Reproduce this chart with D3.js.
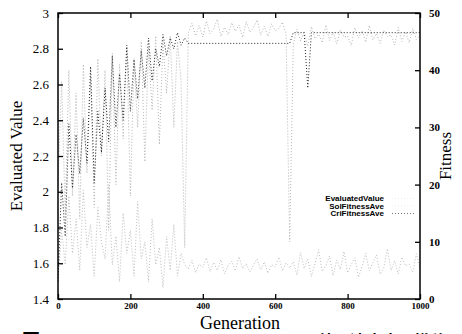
<!DOCTYPE html>
<html>
<head>
<meta charset="utf-8">
<script src="https://cdn.jsdelivr.net/npm/d3@7"></script>
<style>
  body { margin: 0; background: #fff; }
  svg { display: block; }
</style>
</head>
<body>
<script>
// Data, one value every 10 generations (0..1000)
const generations = d3.range(0, 1001, 10)

const evaluatedValue = [
  1.50, 2.05, 1.75, 2.38, 2.02, 2.32, 2.10, 2.41, 2.16, 2.70,
  2.05, 2.45, 2.22, 2.58, 2.28, 2.76, 2.36, 2.66, 2.40, 2.82,
  2.45, 2.74, 2.52, 2.79, 2.58, 2.86, 2.62, 2.80, 2.70, 2.88,
  2.76, 2.86, 2.80, 2.89, 2.82, 2.86,
  2.83, 2.83, 2.83, 2.83, 2.83, 2.83, 2.83, 2.83, 2.83, 2.83,
  2.83, 2.83, 2.83, 2.83, 2.83, 2.83, 2.83, 2.83, 2.83, 2.83,
  2.83, 2.83, 2.83, 2.83, 2.83, 2.83, 2.83, 2.83, 2.83,
  2.89, 2.89, 2.89, 2.89, 2.58, 2.89, 2.89, 2.89, 2.89, 2.89,
  2.89, 2.89, 2.89, 2.89, 2.89, 2.89, 2.89, 2.89, 2.89, 2.89,
  2.89, 2.89, 2.89, 2.89, 2.89, 2.89, 2.89, 2.89, 2.89, 2.89,
  2.89, 2.89, 2.89, 2.89, 2.89, 2.89
]

const solFitnessAve = [
  20, 38, 15, 40, 18, 36, 14, 41, 22, 39,
  16, 42, 25, 40, 12, 43, 20, 41, 28, 44,
  18, 42, 30, 45, 24, 44, 33, 46, 27, 45,
  36, 46, 30, 45, 38, 9,
  46.5, 48.2, 46.0, 47.8, 45.8, 48.6, 46.4, 47.2, 48.9, 45.9,
  47.5, 46.2, 48.3, 46.8, 47.9, 45.7, 48.5, 46.6, 47.4, 48.8,
  46.1, 47.7, 45.9, 48.1, 46.9, 47.3, 48.4, 46.3, 10,
  44.5, 47.2, 45.1, 46.8, 44.2, 47.6, 45.5, 46.3, 44.8, 47.9,
  45.2, 46.6, 44.6, 47.1, 45.8, 46.0, 44.3, 47.4, 45.6, 46.9,
  44.9, 47.8, 45.3, 46.4, 44.7, 47.0, 45.9, 46.2, 44.4, 47.5,
  45.0, 46.7, 44.8, 47.3, 45.4, 46.1
]

const criFitnessAve = [
  3, 12, 6, 18, 8, 14, 5, 19, 9, 13,
  4, 16, 10, 7, 20, 6, 11, 3, 15, 8,
  12, 4, 17, 7, 10, 3, 14, 6, 9, 2,
  11, 5, 13, 4, 8, 6,
  5.2, 6.8, 4.6, 6.1, 5.5, 7.2, 4.8, 6.4, 5.0, 6.9,
  4.4, 5.8, 6.6, 4.9, 7.4, 5.3, 6.2, 4.7, 5.9, 7.0,
  5.1, 6.5, 4.5, 6.0, 5.6, 7.3, 4.9, 6.3, 5.4,
  6.5, 4.2, 8.1, 5.3, 7.0, 3.9, 6.2, 8.6, 4.8, 5.9,
  7.5, 4.1, 6.8, 5.2, 8.3, 4.6, 6.0, 7.2, 3.8, 5.7,
  8.0, 4.9, 6.4, 7.7, 4.3, 5.5, 8.8, 5.0, 6.7, 4.4,
  7.3, 5.8, 6.1, 4.7, 7.9, 5.4
]

const xTicks = [0, 200, 400, 600, 800, 1000]
const yTicks = [1.4, 1.6, 1.8, 2, 2.2, 2.4, 2.6, 2.8, 3]
const y2Ticks = [0, 10, 20, 30, 40, 50]
const legendNames = ['EvaluatedValue', 'SolFitnessAve', 'CriFitnessAve']

const width = 462
const height = 334
const margins = { left: 58, right: 42, top: 13, bottom: 35 }
const serif = '"Liberation Serif", "DejaVu Serif", serif'
const sans = '"Liberation Sans", Arial, sans-serif'

const xScale = d3.scaleLinear().domain([0, 1000]).range([margins.left, width - margins.right])
const yScale = d3.scaleLinear().domain([1.4, 3]).range([height - margins.bottom, margins.top])
const y2Scale = d3.scaleLinear().domain([0, 50]).range([height - margins.bottom, margins.top])

const svg = d3.select('body').append('svg')
  .attr('width', width)
  .attr('height', height)
  .attr('viewBox', [0, 0, width, height].join(' '))

svg.append('defs').append('clipPath').attr('id', 'plot')
  .append('rect')
  .attr('x', margins.left).attr('y', margins.top)
  .attr('width', xScale(1000) - xScale(0))
  .attr('height', yScale(1.4) - yScale(3))

// Series as dotted lines (gnuplot style)
const series = [
  { values: solFitnessAve, scale: y2Scale, color: '#b4b4b4', dash: '1,2' },
  { values: criFitnessAve, scale: y2Scale, color: '#bcbcbc', dash: '1,2' },
  { values: evaluatedValue, scale: yScale, color: '#222', dash: '1,2' }
]

const plot = svg.append('g').attr('clip-path', 'url(#plot)')
series.forEach(s => {
  const line = d3.line()
    .x((d, i) => xScale(generations[i]))
    .y(d => s.scale(d))
  plot.append('path')
    .datum(s.values)
    .attr('d', line)
    .attr('fill', 'none')
    .attr('stroke', s.color)
    .attr('stroke-width', 1)
    .attr('stroke-dasharray', s.dash)
})

// Axes, ticks pointing inward
const styleAxis = g => {
  g.select('.domain').remove()
  g.selectAll('.tick line').attr('stroke', '#000').attr('stroke-width', 1.3)
  g.selectAll('text').attr('fill', '#000')
}

svg.append('g')
  .attr('transform', `translate(0, ${yScale(1.4)})`)
  .call(d3.axisBottom(xScale).tickValues(xTicks).tickSizeInner(-5).tickSizeOuter(0).tickPadding(4).tickFormat(d3.format('d')))
  .call(styleAxis)
  .selectAll('text')
  .style('font-family', serif).style('font-size', '9px').style('font-weight', 'bold')

svg.append('g')
  .attr('transform', `translate(0, ${yScale(3)})`)
  .call(d3.axisTop(xScale).tickValues(xTicks).tickSizeInner(-5).tickSizeOuter(0).tickFormat(''))
  .call(styleAxis)

svg.append('g')
  .attr('transform', `translate(${margins.left}, 0)`)
  .call(d3.axisLeft(yScale).tickValues(yTicks).tickSizeInner(-5).tickSizeOuter(0).tickPadding(9).tickFormat(d3.format('~g')))
  .call(styleAxis)
  .selectAll('text')
  .style('font-family', serif).style('font-size', '13px')

svg.append('g')
  .attr('transform', `translate(${width - margins.right}, 0)`)
  .call(d3.axisRight(y2Scale).tickValues(y2Ticks).tickSizeInner(-5).tickSizeOuter(0).tickPadding(9))
  .call(styleAxis)
  .selectAll('text')
  .style('font-family', serif).style('font-size', '11px').style('font-weight', 'bold')

// Frame
svg.append('rect')
  .attr('x', margins.left).attr('y', margins.top)
  .attr('width', xScale(1000) - xScale(0))
  .attr('height', yScale(1.4) - yScale(3))
  .attr('fill', 'none')
  .attr('stroke', '#000')
  .attr('stroke-width', 1.5)

// Axis titles
svg.append('text')
  .attr('transform', `translate(22, ${(margins.top + yScale(1.4)) / 2}) rotate(-90)`)
  .attr('text-anchor', 'middle')
  .style('font-family', serif).style('font-size', '17px')
  .text('Evaluated Value')

svg.append('text')
  .attr('transform', `translate(451, ${(margins.top + yScale(1.4)) / 2}) rotate(-90)`)
  .attr('text-anchor', 'middle')
  .style('font-family', serif).style('font-size', '17px')
  .text('Fitness')

svg.append('text')
  .attr('x', 240).attr('y', 329)
  .attr('text-anchor', 'middle')
  .style('font-family', serif).style('font-size', '18px')
  .text('Generation')

// Legend
const legend = svg.append('g')
legendNames.forEach((name, i) => {
  const y = 201 + i * 7.5
  legend.append('text')
    .attr('x', 384).attr('y', y)
    .attr('text-anchor', 'end')
    .style('font-family', sans).style('font-size', '8px').style('font-weight', 'bold')
    .text(name)
  legend.append('line')
    .attr('x1', 392).attr('x2', 414)
    .attr('y1', y - 2.5).attr('y2', y - 2.5)
    .attr('stroke', i === 2 ? '#777' : '#eee')
    .attr('stroke-width', 1)
    .attr('stroke-dasharray', '1,2')
})

// Figure caption, cut off by the bottom edge as in the scan
svg.append('text')
  .attr('x', 22).attr('y', 347)
  .style('font-family', '"Noto Sans CJK JP", sans-serif').style('font-size', '18px').style('font-weight', 'bold')
  .text('図')
svg.append('text')
  .attr('x', 318).attr('y', 347)
  .style('font-family', '"Noto Sans CJK JP", sans-serif').style('font-size', '16px').style('font-weight', 'bold')
  .text('値と適応度の推移')
</script>
</body>
</html>
